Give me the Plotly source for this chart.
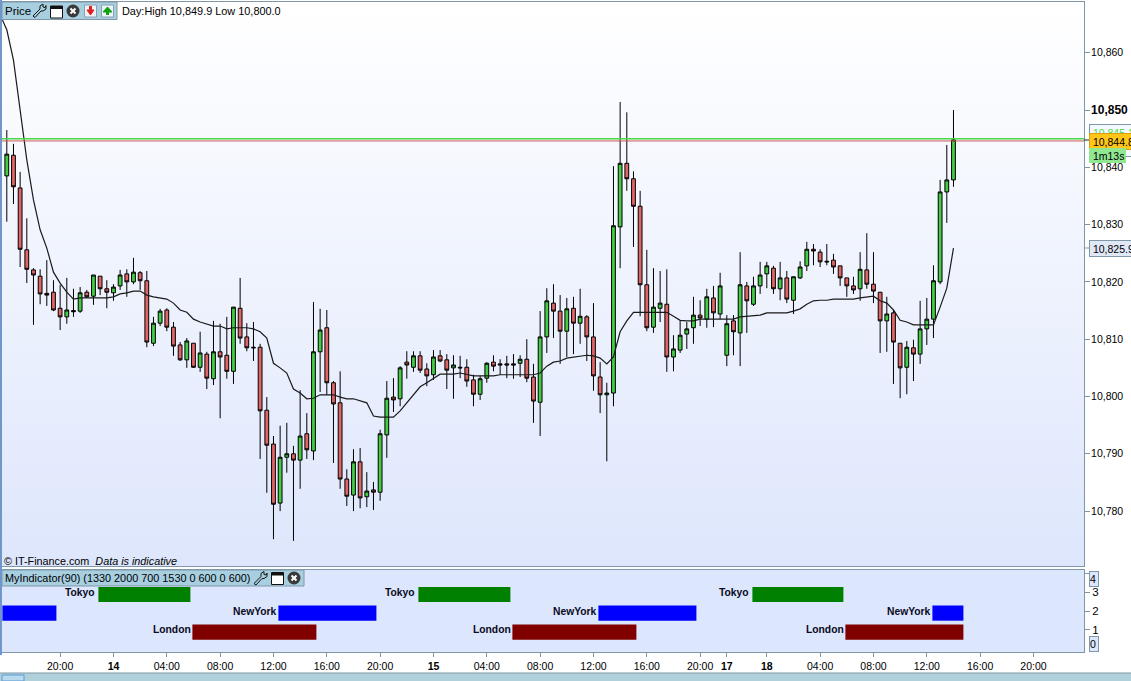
import plotly.graph_objects as go

W, H = 1131, 681

opens = [10838.5,10842.1,10836.4,10825.6,10822.1,10821.0,10818.0,10818.2,10815.4,10813.9,
10815.0,10814.9,10818.2,10817.5,10821.0,10818.8,10818.1,10819.3,10821.4,10820.0,
10821.6,10820.2,10809.3,10812.8,10815.1,10812.1,10809.0,10806.4,10809.3,10805.1,
10807.4,10803.1,10807.8,10807.2,10804.4,10815.4,10810.4,10808.6,10808.6,10797.6,
10791.7,10781.4,10789.4,10790.0,10788.9,10793.5,10790.5,10807.8,10812.0,10802.4,
10798.9,10785.6,10782.8,10788.6,10782.5,10783.7,10783.3,10793.3,10799.9,10799.6,
10806.0,10805.1,10807.1,10804.8,10803.8,10807.1,10806.4,10805.0,10805.1,10805.1,
10802.9,10800.4,10803.2,10806.0,10805.7,10805.7,10805.7,10805.8,10806.5,10803.4,
10799.0,10810.4,10816.3,10814.9,10811.4,10815.4,10812.8,10813.9,10810.4,10803.4,
10800.3,10800.6,10829.6,10840.7,10838.0,10833.2,10819.5,10812.1,10815.4,10816.1,
10806.9,10808.1,10810.9,10812.0,10814.2,10813.5,10817.2,10814.4,10807.2,10813.2,
10811.1,10819.3,10816.1,10819.3,10821.4,10822.4,10818.8,10820.7,10816.8,10820.7,
10822.8,10825.7,10825.2,10823.6,10823.8,10822.8,10820.7,10819.3,10818.8,10822.1,
10819.6,10818.2,10813.2,10814.6,10809.3,10805.1,10808.5,10807.4,10811.8,10813.5,
10820.0,10835.7,10837.8]

closes = [10842.3,10836.6,10825.7,10822.2,10821.2,10817.9,10817.7,10815.1,10813.9,10815.1,
10814.8,10818.1,10817.4,10821.2,10818.8,10818.2,10819.1,10821.2,10820.0,10821.7,
10820.2,10809.5,10812.8,10814.9,10812.1,10808.8,10806.4,10809.7,10805.1,10807.6,
10803.2,10807.8,10806.9,10804.4,10815.6,10810.2,10808.5,10808.5,10797.5,10791.5,
10781.2,10789.4,10790.0,10788.9,10793.1,10790.7,10807.8,10811.6,10802.4,10798.7,
10785.6,10782.6,10788.6,10782.3,10783.5,10783.3,10793.5,10799.7,10799.4,10805.0,
10805.5,10807.1,10804.6,10803.6,10806.9,10806.2,10804.6,10805.5,10805.0,10802.7,
10800.4,10803.1,10805.8,10805.3,10805.5,10805.5,10805.5,10806.5,10803.2,10799.2,
10810.4,10816.7,10814.9,10811.4,10815.3,10812.8,10814.0,10810.4,10803.6,10800.3,
10800.6,10829.8,10840.7,10838.0,10833.2,10819.5,10812.0,10815.6,10816.3,10806.9,
10808.3,10810.7,10811.8,10814.2,10813.7,10817.4,10814.6,10819.3,10812.7,10811.3,
10819.5,10816.7,10819.3,10821.2,10822.8,10818.8,10820.7,10817.0,10820.9,10822.6,
10825.7,10825.4,10823.5,10823.5,10822.6,10820.7,10819.3,10818.6,10822.2,10819.6,
10818.4,10813.2,10814.4,10809.5,10805.0,10808.6,10807.4,10811.8,10813.5,10820.2,
10835.7,10837.8,10844.8]

highs = [10846.5,10844.1,10839.2,10831.1,10822.4,10822.2,10823.8,10820.3,10819.5,10820.7,
10818.8,10819.1,10818.6,10821.2,10821.0,10820.3,10819.6,10822.1,10822.2,10824.2,
10821.9,10821.9,10813.9,10815.3,10815.4,10813.0,10809.5,10810.2,10809.3,10811.3,
10807.8,10813.2,10812.7,10813.9,10815.6,10820.7,10812.8,10813.0,10809.2,10799.9,
10793.1,10794.9,10795.4,10791.4,10801.1,10797.1,10816.5,10815.3,10815.1,10802.7,
10804.4,10787.3,10790.8,10791.0,10786.8,10785.1,10794.2,10802.7,10803.2,10805.3,
10807.9,10807.9,10807.9,10805.8,10808.1,10808.1,10807.4,10807.2,10807.1,10806.5,
10803.8,10803.6,10806.0,10807.2,10806.5,10807.1,10807.4,10807.2,10810.0,10805.7,
10814.9,10818.9,10819.6,10817.7,10817.2,10817.4,10818.8,10814.2,10816.3,10806.0,
10802.4,10840.2,10851.4,10849.6,10839.3,10835.9,10825.6,10822.4,10821.9,10822.2,
10810.7,10813.2,10813.0,10817.4,10816.8,10818.8,10819.3,10821.6,10814.2,10814.2,
10825.2,10820.0,10820.9,10823.5,10823.5,10822.8,10823.5,10821.9,10820.9,10823.6,
10827.0,10826.6,10825.7,10826.6,10824.9,10822.8,10820.7,10820.9,10825.2,10828.5,
10825.2,10818.2,10817.4,10815.1,10809.3,10809.7,10809.9,10816.7,10817.2,10822.9,
10837.8,10843.9,10850.0]

lows = [10830.5,10833.6,10822.6,10819.8,10812.5,10816.1,10815.8,10814.9,10811.6,10812.7,
10813.9,10814.6,10817.2,10816.0,10817.7,10815.4,10816.7,10818.6,10817.4,10819.6,
10818.6,10808.6,10808.8,10812.3,10811.4,10807.1,10806.2,10805.0,10805.0,10804.3,
10801.3,10802.0,10796.2,10803.1,10802.2,10809.2,10807.9,10806.2,10789.1,10783.2,
10775.1,10780.0,10786.7,10774.8,10783.9,10789.1,10788.9,10800.8,10800.3,10788.4,
10783.9,10780.9,10780.0,10780.5,10780.7,10780.2,10781.8,10789.3,10797.3,10798.3,
10803.1,10804.3,10804.1,10801.8,10802.9,10806.0,10801.3,10799.6,10803.2,10801.7,
10798.3,10799.4,10802.4,10804.4,10803.8,10803.2,10803.1,10803.4,10802.5,10795.4,
10793.1,10807.6,10810.2,10805.7,10806.9,10807.4,10809.2,10806.2,10801.0,10797.1,
10788.7,10798.3,10822.4,10835.9,10826.1,10814.0,10811.4,10811.1,10813.0,10804.3,
10804.4,10807.6,10808.3,10809.2,10812.3,10812.0,10812.1,10813.5,10805.3,10807.2,
10805.3,10811.1,10815.8,10817.9,10818.9,10817.9,10816.8,10816.3,10814.4,10820.5,
10821.9,10822.9,10822.6,10822.9,10821.4,10819.3,10817.4,10817.9,10816.7,10818.8,
10816.3,10807.6,10807.8,10802.2,10799.7,10800.4,10802.7,10805.7,10809.0,10810.2,
10819.6,10830.3,10836.6]

ma_values = [10865.7,10864.0,10858.7,10849.5,10841.3,10834.3,10829.1,10825.9,10821.7,10819.8,10818.2,
10817.0,10817.2,10817.2,10817.2,10817.2,10817.2,10817.4,10817.9,10818.1,10818.4,
10818.4,10817.7,10817.4,10817.2,10817.0,10816.3,10815.1,10814.7,10813.5,10813.0,
10812.7,10812.3,10812.3,10811.8,10812.0,10812.0,10812.0,10811.8,10811.3,10810.2,
10805.8,10805.0,10804.1,10801.3,10800.6,10799.6,10799.7,10800.3,10800.3,10800.3,
10799.9,10799.6,10799.6,10799.2,10798.9,10796.6,10796.4,10796.4,10796.4,10797.5,
10798.9,10800.4,10801.7,10802.4,10803.2,10803.9,10803.9,10803.9,10804.1,10803.9,
10803.6,10803.6,10803.6,10803.6,10803.8,10803.8,10803.8,10803.8,10803.8,10803.8,
10804.1,10805.3,10806.0,10806.2,10806.7,10806.9,10807.1,10807.2,10807.1,10806.7,
10805.7,10806.9,10811.3,10813.2,10814.7,10814.7,10814.7,10814.7,10814.7,10814.7,
10814.0,10813.3,10813.2,10813.2,10813.5,10813.5,10813.5,10813.5,10813.5,10813.5,
10813.9,10814.0,10814.0,10814.2,10814.6,10814.6,10814.6,10814.6,10814.9,10815.3,
10816.1,10816.7,10816.8,10816.8,10817.0,10817.0,10817.0,10817.0,10817.2,10817.4,
10817.5,10816.7,10816.3,10815.1,10813.3,10813.0,10812.5,10812.5,10812.5,10812.5,
10815.6,10818.9,10825.9]
ma_first_x = -0.66

price_ticks = [10780,10790,10800,10810,10820,10830,10840,10850,10860]
price_labels = ["10,780","10,790","10,800","10,810","10,820","10,830","10,840",
                '<span style="font-size:12px"><b>10,850</b></span>',"10,860"]
time_ticks = [8,16,24,32,40,48,56,64,72,80,88,96,104,108,114,122,130,138,146,154]
time_labels = ["20:00","<b>14</b>","04:00","08:00","12:00","16:00","20:00","<b>15</b>","04:00","08:00",
               "12:00","16:00","20:00","<b>17</b>","<b>18</b>","04:00","08:00","12:00","16:00","20:00"]

tokyo_start = [13.74,61.74,111.84]
tokyo_end = [27.54,75.54,125.49]
newyork_start = [-0.66,40.74,88.74,138.84]
newyork_end = [7.44,55.44,103.44,143.49]
london_start = [27.84,75.84,125.79]
london_end = [46.44,94.44,143.49]

FONT = "Liberation Sans"
BORDER = "#7f97a7"
X_RANGE = [-0.72, 161.58]
px = lambda x: x / W
py = lambda y: 1 - y / H

shapes = []
def rect(x0, y0, x1, y1, fill, line=None, lw=1):
    shapes.append(dict(type="rect", xref="paper", yref="paper", x0=px(x0), x1=px(x1), y0=py(y1), y1=py(y0),
                       fillcolor=fill, line=dict(color=line or fill, width=lw if line else 0), layer="below"))
def above(d):
    shapes.append(d)
def poly(points, fill=None, line=None, lw=1):
    p = "M " + " L ".join(f"{px(a):.5f},{py(b):.5f}" for a, b in points) + (" Z" if fill else "")
    above(dict(type="path", xref="paper", yref="paper", path=p, fillcolor=fill or "rgba(0,0,0,0)",
               line=dict(color=line or fill, width=lw), layer="above"))
def box_above(x0, y0, x1, y1, fill, line=None, lw=1):
    above(dict(type="rect", xref="paper", yref="paper", x0=px(x0), x1=px(x1), y0=py(y1), y1=py(y0),
               fillcolor=fill, line=dict(color=line or fill, width=lw if line else 0), layer="above"))

# pane gradient
top = (255, 255, 255); bot = (221, 230, 252)
step = 4
for y in range(2, 566, step):
    t = (y - 2) / 564
    c = tuple(round(a + (b - a) * t) for a, b in zip(top, bot))
    rect(2, y, 1084, min(y + step, 566), "rgb(%d,%d,%d)" % c)
rect(2, 570, 1084, 652, "#dce6fc")
rect(0, 0, 2, 655, "#6495ed")
rect(0, 673, 1131, 681, "#b0d0dc")
rect(0, 672.5, 1131, 673.5, BORDER)
rect(2, 675, 24, 681, "#b9d9ef", "#5b9bd5")

# toolbars
def wrench(x, y):
    poly([(x, y + 12), (x + 7, y + 5), (x + 7, y + 2), (x + 10, y), (x + 10, y + 3), (x + 12, y + 3.5),
          (x + 13, y + 1.5), (x + 13, y + 5), (x + 10, y + 7), (x + 8, y + 7), (x + 2, y + 13.5), (x, y + 12)],
         line="#111111", lw=1)
def window(x, y):
    box_above(x, y, x + 12, y + 12, "#ffffff", "#111111")
    box_above(x, y, x + 12, y + 3, "#111111")
def closer(cx, cy):
    above(dict(type="circle", xref="paper", yref="paper", x0=px(cx - 6.5), x1=px(cx + 6.5),
               y0=py(cy + 6.5), y1=py(cy - 6.5), fillcolor="#3a3a3a", line=dict(width=0), layer="above"))
    poly([(cx - 2.5, cy - 2.5), (cx + 2.5, cy + 2.5)], line="#ffffff", lw=2)
    poly([(cx + 2.5, cy - 2.5), (cx - 2.5, cy + 2.5)], line="#ffffff", lw=2)

box_above(2, 2, 117, 19.5, "#a8cfe0", BORDER)
wrench(33, 4); window(50.5, 6); closer(73, 11)
box_above(84.5, 5, 96.5, 17, "#eef3f8", "#8aa0b0")
poly([(87, 10), (94, 10), (90.5, 15)], fill="#e02020")
poly([(90.5, 6), (90.5, 11)], line="#e02020", lw=3)
box_above(101.5, 5, 113.5, 17, "#eef3f8", "#8aa0b0")
poly([(103, 12), (112, 12), (107.5, 7)], fill="#10a010")
poly([(107.5, 11), (107.5, 15)], line="#10a010", lw=3)

box_above(2, 570, 304, 586, "#a8cfe0", BORDER)
wrench(254, 571.5); window(271.5, 572.5); closer(294, 578)

# ticks for boxed labels
box_above(1084, 247.5, 1089, 248.5, BORDER)
box_above(1084, 139.5, 1089, 140.5, "#222222")

# current-price lines
above(dict(type="line", xref="x", yref="y", x0=X_RANGE[0], x1=X_RANGE[1], y0=10845.0, y1=10845.0,
           line=dict(color="#48d848", width=1.5), layer="above"))
above(dict(type="line", xref="x", yref="y", x0=X_RANGE[0], x1=X_RANGE[1], y0=10844.6, y1=10844.6,
           line=dict(color="#d05858", width=1), layer="above"))

idx = list(range(len(opens)))
fig = go.Figure()
fig.add_trace(go.Candlestick(
    x=idx, open=opens, high=highs, low=lows, close=closes, xaxis="x", yaxis="y", whiskerwidth=0,
    increasing=dict(line=dict(color="#000000", width=1), fillcolor="#44cc44"),
    decreasing=dict(line=dict(color="#000000", width=1), fillcolor="#e06666"),
    showlegend=False, hoverinfo="skip"))
fig.add_trace(go.Scatter(x=[ma_first_x] + idx, y=ma_values, mode="lines", xaxis="x", yaxis="y",
                         line=dict(color="#1a1a1a", width=1.2), showlegend=False, hoverinfo="skip"))

sessions = [("Tokyo", tokyo_start, tokyo_end, 2.87, "#008000", -1),
            ("NewYork", newyork_start, newyork_end, 1.89, "#0000ff", 1),
            ("London", london_start, london_end, 0.89, "#800000", 1)]
ann = []
def text(x, y, s, size=11, color="#000000", anchor="left", **kw):
    ann.append(dict(xref="paper", yref="paper", x=px(x - 2), y=py(y), text=s, showarrow=False, xanchor=anchor,
                    yanchor="middle", font=dict(family=FONT, size=size, color=color), **kw))

for name, st, en, lvl, col, shift in sessions:
    fig.add_trace(go.Bar(x=[e - s for s, e in zip(st, en)], base=st, y=[lvl] * len(st), orientation="h",
                         width=0.8, marker=dict(color=col, line=dict(width=0)), xaxis="x2", yaxis="y2",
                         showlegend=False, hoverinfo="skip"))
    for s in st:
        if s < 0:
            continue
        ann.append(dict(xref="x2", yref="y2", x=s, y=round(lvl + 0.11), text=f"<b>{name}</b>", showarrow=False,
                        xanchor="right", yanchor="middle", xshift=shift,
                        font=dict(family=FONT, size=10.3, color="#0a0a1e")))

text(5, 11, "Price", 11.5)
text(122, 11, "Day:High 10,849.9 Low 10,800.0", 10.9)
text(4, 561, "© IT-Finance.com  <i>Data is indicative</i>", 10.8)
text(5, 578, "MyIndicator(90) (1330 2000 700 1530 0 600 0 600)", 10.85)

def label(y0, y1, s, fill, border, color="#000000", x=1089, w=60, size=10.5):
    ann.append(dict(xref="paper", yref="paper", x=px(x), y=py(y0), xanchor="left", yanchor="top", text=s,
                    showarrow=False, align="left", width=w, height=y1 - y0 - 1, bgcolor=fill, bordercolor=border,
                    borderwidth=1, borderpad=0, font=dict(family=FONT, size=size, color=color)))

label(124, 140, " 10,845.1", "#f4f8ff", BORDER, "#48d848")
label(146, 156, " ", "#f4f8ff", BORDER, "#d86060")
label(133, 149, " 10,844.8", "#ffc61a", "#d8a010")
label(148, 162, " 1m13s", "#90e890", "#90e890", w=35)
label(240, 256, " 10,825.9", "#e0e7f5", BORDER)
label(571, 586, "4", "#dce6fc", BORDER, w=8)
label(636, 651, "0", "#dce6fc", BORDER, w=8)

fig.update_layout(
    width=W, height=H, autosize=False, margin=dict(l=0, r=0, t=0, b=0, pad=0),
    paper_bgcolor="#ffffff", plot_bgcolor="rgba(0,0,0,0)", showlegend=False, barmode="overlay",
    boxgap=0.43, boxgroupgap=0,
    font=dict(family=FONT, size=11, color="#000000"), shapes=shapes, annotations=ann, hovermode=False,
    xaxis=dict(domain=[px(2), px(1084)], range=X_RANGE, anchor="y", showgrid=False, zeroline=False,
               showticklabels=False, ticks="", showline=True, mirror=True, linecolor=BORDER, linewidth=1,
               rangeslider=dict(visible=False), fixedrange=True, automargin=False),
    yaxis=dict(domain=[py(566), py(2)], range=[10770.42, 10868.85], side="right", anchor="x", showgrid=False,
               zeroline=False, tickvals=price_ticks, ticktext=price_labels, ticks="outside", ticklen=5,
               tickcolor=BORDER, tickfont=dict(family=FONT, size=10.5), showline=True, mirror=True,
               linecolor=BORDER, linewidth=1, fixedrange=True, automargin=False, ticklabelstandoff=-1),
    xaxis2=dict(domain=[px(2), px(1084)], range=X_RANGE, anchor="y2", showgrid=False, zeroline=False,
                tickvals=time_ticks, ticktext=time_labels, ticks="outside", ticklen=4, tickcolor=BORDER,
                tickfont=dict(family=FONT, size=10.5), tickangle=0, showline=True, mirror=True,
                linecolor=BORDER, linewidth=1, fixedrange=True, automargin=False),
    yaxis2=dict(domain=[py(652), py(570)], range=[-0.16, 4.16], side="right", anchor="x2", showgrid=False,
                zeroline=False, tickvals=[1, 2, 3, 4], ticktext=["1", "2", "3", " "], ticks="outside", ticklen=5,
                tickcolor=BORDER, tickfont=dict(family=FONT, size=11.5), showline=True, mirror=True,
                linecolor=BORDER, linewidth=1, fixedrange=True, automargin=False),
)
fig.write_html("out.html", config=dict(displayModeBar=False),
               post_script="document.body.style.margin='0';document.body.style.overflow='hidden';")
